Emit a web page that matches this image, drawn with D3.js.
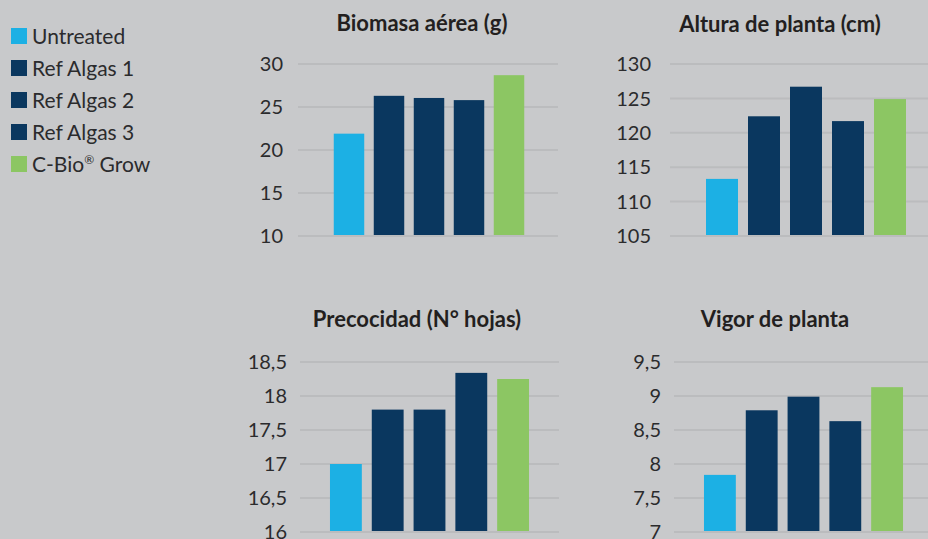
<!DOCTYPE html>
<html>
<head>
<meta charset="utf-8">
<script src="https://cdn.jsdelivr.net/npm/d3@7"></script>
<style>
  html, body { margin: 0; padding: 0; background: #c8c9cb; }
  svg { display: block; }
</style>
</head>
<body>
<div id="chart"></div>
<script>
// series / categories
const series = ["Untreated", "Ref Algas 1", "Ref Algas 2", "Ref Algas 3", "C-Bio® Grow"];
const seriesColors = ["#1cb0e4", "#0a375f", "#0a375f", "#0a375f", "#8cc663"];

// panel titles
const titles = ["Biomasa aérea (g)", "Altura de planta (cm)", "Precocidad (N° hojas)", "Vigor de planta"];

// values per panel, in series order
const biomasa = [21.9, 26.3, 26.05, 25.8, 28.7];
const altura = [113.3, 122.4, 126.7, 121.7, 124.9];
const precocidad = [17.0, 17.8, 17.8, 18.34, 18.25];
const vigor = [7.84, 8.79, 8.99, 8.63, 9.13];

// y domains and tick values
const biomasaTicks = [10, 15, 20, 25, 30];
const alturaTicks = [105, 110, 115, 120, 125, 130];
const precocidadTicks = [16, 16.5, 17, 17.5, 18, 18.5];
const vigorTicks = [7, 7.5, 8, 8.5, 9, 9.5];

const width = 928, height = 539;
const fontFamily = "Lato, 'Noto Sans', sans-serif";

const svg = d3.select("#chart").append("svg")
  .attr("width", width)
  .attr("height", height);

// panel layout (pixels)
const panels = [
  { title: titles[0], values: biomasa, ticks: biomasaTicks, gx0: 298, gx1: 558, bx0: 329, bx1: 529, top: 64, bottom: 236, labelX: 283, titleX: 422, titleY: 31 },
  { title: titles[1], values: altura, ticks: alturaTicks, gx0: 670, gx1: 942, bx0: 701, bx1: 911, top: 64, bottom: 236, labelX: 651, titleX: 780, titleY: 32 },
  { title: titles[2], values: precocidad, ticks: precocidadTicks, gx0: 300, gx1: 559, bx0: 325, bx1: 534, top: 362, bottom: 532, labelX: 287, titleX: 417, titleY: 327 },
  { title: titles[3], values: vigor, ticks: vigorTicks, gx0: 674, gx1: 933, bx0: 699, bx1: 908, top: 362, bottom: 532, labelX: 661, titleX: 775, titleY: 327 }
];

const fmt = v => String(v).replace(".", ",");

panels.forEach(p => {
  const g = svg.append("g");

  const y = d3.scaleLinear()
    .domain(d3.extent(p.ticks))
    .range([p.bottom, p.top]);

  const x = d3.scaleBand()
    .domain(series)
    .range([p.bx0, p.bx1])
    .paddingInner(10 / 42)
    .paddingOuter(5 / 42);

  // gridlines
  g.selectAll(".grid")
    .data(p.ticks)
    .enter().append("line")
    .attr("x1", p.gx0)
    .attr("x2", p.gx1)
    .attr("y1", d => y(d))
    .attr("y2", d => y(d))
    .attr("stroke", "#bbbcbe")
    .attr("stroke-width", 2);

  // tick labels
  g.selectAll(".tick")
    .data(p.ticks)
    .enter().append("text")
    .attr("x", p.labelX)
    .attr("y", d => y(d))
    .attr("dy", "0.36em")
    .attr("text-anchor", "end")
    .attr("fill", "#2b2b2d")
    .style("font-family", fontFamily)
    .style("font-size", "20px")
    .text(d => fmt(d));

  // bars
  g.selectAll(".bar")
    .data(p.values)
    .enter().append("rect")
    .attr("x", (d, i) => x(series[i]))
    .attr("width", x.bandwidth())
    .attr("y", d => y(d))
    .attr("height", d => y(p.ticks[0]) - y(d) - 1)
    .attr("fill", (d, i) => seriesColors[i]);

  // title
  g.append("text")
    .attr("x", p.titleX)
    .attr("y", p.titleY)
    .attr("text-anchor", "middle")
    .attr("fill", "#231f20")
    .style("font-family", fontFamily)
    .style("font-weight", "bold")
    .style("font-size", "22px")
    .text(p.title);
});

// legend
const legend = svg.append("g");
const item = legend.selectAll(".item")
  .data(series)
  .enter().append("g")
  .attr("transform", (d, i) => `translate(11, ${28 + i * 32})`);

item.append("rect")
  .attr("width", 16)
  .attr("height", 16)
  .attr("fill", (d, i) => seriesColors[i]);

item.append("text")
  .attr("x", 21)
  .attr("y", 16)
  .attr("fill", "#2b2b2d")
  .style("font-family", fontFamily)
  .style("font-size", "21px")
  .each(function(d) {
    const t = d3.select(this);
    const parts = d.split("®");
    t.append("tspan").text(parts[0]);
    if (parts.length > 1) {
      t.append("tspan").attr("dy", -8).style("font-size", "12px").text("®");
      t.append("tspan").attr("dy", 8).text(parts[1]);
    }
  });
</script>
</body>
</html>
